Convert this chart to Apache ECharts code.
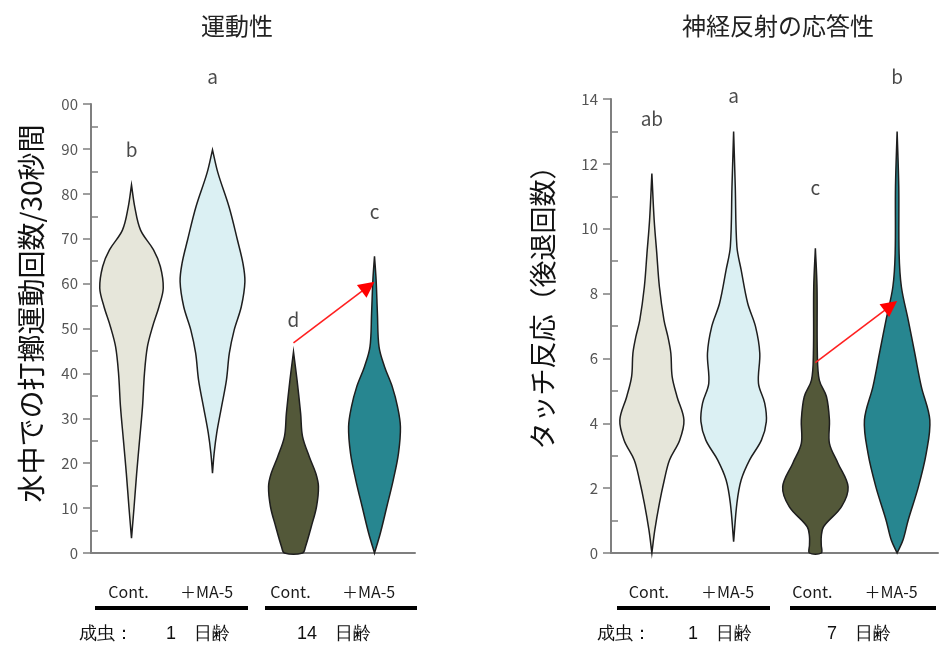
<!DOCTYPE html>
<html><head><meta charset="utf-8">
<script src="https://cdn.jsdelivr.net/npm/echarts@6/dist/echarts.min.js"></script>
<style>html,body{margin:0;padding:0;background:#fff}#c{width:939px;height:648px}</style>
</head><body><div id="c"></div>
<script>
// ---- data ----
const categories = ['Cont.', '＋MA-5', 'Cont.', '＋MA-5'];
const violinColors = ['#e6e6da', '#dbf0f3', '#535839', '#278690'];
const titleLeft = '運動性';
const titleRight = '神経反射の応答性';
const yNameLeft = '水中での打擲運動回数/30秒間';
const yNameRight = 'タッチ反応（後退回数）';
const groupLeft = ['1　日齢', '14　日齢'];
const groupRight = ['1　日齢', '7　日齢'];
const adultLabel = '成虫：';

// Left chart: y values (counts) and relative violin widths (density)
const L1_v = [3.3, 10.3, 17.8, 25.2, 32.6, 40.0, 45.9, 50.4, 54.9, 59.0, 63.8, 67.5, 71.9, 77.1, 82.0];
const L1_d = [0, 0.08, 0.16, 0.25, 0.34, 0.40, 0.49, 0.65, 0.85, 0.98, 0.89, 0.68, 0.28, 0.10, 0];
const L2_v = [17.8, 22.2, 26.7, 32.6, 38.5, 44.5, 49.7, 54.9, 60.4, 64.5, 69.7, 77.1, 84.6, 89.8];
const L2_d = [0, 0.05, 0.13, 0.28, 0.43, 0.52, 0.67, 0.89, 1.0, 0.94, 0.77, 0.51, 0.17, 0];
const L3_v = [0, 1.4, 5.9, 10.3, 14.8, 17.7, 21.4, 25.9, 31.1, 38.5, 44.8];
const L3_d = [0.28, 0.37, 0.55, 0.71, 0.77, 0.69, 0.49, 0.28, 0.22, 0.11, 0];
const L4_v = [0, 4.4, 10.3, 16.3, 22.2, 28.1, 32.6, 37.0, 41.5, 45.9, 53.4, 60.8, 66.1];
const L4_d = [0, 0.18, 0.38, 0.58, 0.74, 0.80, 0.71, 0.55, 0.31, 0.14, 0.09, 0.05, 0];

// Right chart
const R1_v = [0, 0.71, 1.53, 2.25, 2.87, 3.48, 4.1, 4.82, 5.44, 6.16, 6.67, 7.18, 8.21, 9.24, 10.27, 11.7];
const R1_d = [0, 0.09, 0.23, 0.38, 0.54, 0.85, 0.98, 0.77, 0.62, 0.58, 0.49, 0.37, 0.23, 0.15, 0.07, 0];
const R2_v = [0.35, 1.53, 2.25, 2.87, 3.48, 4.05, 4.62, 5.23, 6.16, 6.98, 7.7, 8.73, 9.45, 11.3, 13.0];
const R2_d = [0, 0.10, 0.23, 0.49, 0.85, 1.0, 0.95, 0.76, 0.80, 0.67, 0.43, 0.23, 0.10, 0.05, 0];
const R3_v = [0, 0.25, 0.5, 0.81, 1.43, 2.04, 2.77, 3.38, 4.1, 4.82, 5.33, 6.16, 8.21, 9.4];
const R3_d = [0.18, 0.18, 0.18, 0.25, 0.80, 1.0, 0.69, 0.43, 0.43, 0.34, 0.12, 0.06, 0.05, 0];
const R4_v = [0, 0.4, 1.02, 2.04, 3.07, 4.1, 5.13, 6.16, 7.18, 8.21, 9.24, 11.3, 13.0];
const R4_d = [0, 0.18, 0.34, 0.65, 0.89, 1.0, 0.74, 0.54, 0.34, 0.13, 0.06, 0.05, 0];

// significance letters and their heights (data units)
const lettersLeft = ['b', 'a', 'd', 'c'];
const letterYLeft = [89.8, 106, 51.9, 75.9];
const lettersRight = ['ab', 'a', 'c', 'b'];
const letterYRight = [13.4, 14.1, 11.25, 14.7];

// arrows [x0, y0, x1, y1] in data units (category index, value)
const arrowLeft = [2.17, 46.8, 2.84, 60.4];
const arrowRight = [2.17, 5.87, 2.83, 7.77];

const profilesLeft = [{v: L1_v, d: L1_d}, {v: L2_v, d: L2_d}, {v: L3_v, d: L3_d}, {v: L4_v, d: L4_d}];
const profilesRight = [{v: R1_v, d: R1_d}, {v: R2_v, d: R2_d}, {v: R3_v, d: R3_d}, {v: R4_v, d: R4_d}];

// ---- chart ----
const FONT = '"Noto Sans CJK JP", "Noto Sans", sans-serif';
const AXIS_GRAY = '#7f7f7f';

function violinRenderer(profiles) {
  return function (params, api) {
    const i = params.dataIndex;
    const p = profiles[i];
    const band = api.size([1, 0])[0];
    const maxHalf = band * 0.40;
    const cx = api.coord([i, 0])[0];
    const right = [], left = [];
    for (let k = 0; k < p.v.length; k++) {
      const y = api.coord([i, p.v[k]])[1];
      const w = p.d[k] * maxHalf;
      right.push([cx + w, y]);
      left.unshift([cx - w, y]);
    }
    return {
      type: 'polygon',
      shape: { points: right.concat(left), smooth: 0.35 },
      style: { fill: violinColors[i], stroke: '#1e1e1e', lineWidth: 1.5 }
    };
  };
}

function arrowRenderer(arr) {
  return function (params, api) {
    const a = api.coord([arr[0], arr[1]]);
    const b = api.coord([arr[2], arr[3]]);
    const dx = b[0] - a[0], dy = b[1] - a[1];
    const len = Math.sqrt(dx * dx + dy * dy);
    const ux = dx / len, uy = dy / len;
    const hl = 16, hw = 8;
    const base = [b[0] - ux * hl, b[1] - uy * hl];
    return {
      type: 'group',
      children: [
        { type: 'line', shape: { x1: a[0], y1: a[1], x2: base[0] + ux * 2, y2: base[1] + uy * 2 },
          style: { stroke: '#ff2020', lineWidth: 1.6 } },
        { type: 'polygon', shape: { points: [b, [base[0] - uy * hw, base[1] + ux * hw], [base[0] + uy * hw, base[1] - ux * hw]] },
          style: { fill: '#ff0000' } }
      ]
    };
  };
}

function xAxisCfg(gridIndex) {
  return {
    type: 'category', gridIndex, data: categories, boundaryGap: true,
    axisLine: { lineStyle: { color: AXIS_GRAY, width: 2 } },
    axisTick: { alignWithLabel: true, length: 8, lineStyle: { color: '#555', width: 1.5 } },
    axisLabel: {
      interval: 0, hideOverlap: false,
      margin: 31, fontSize: 16, color: '#1a1a1a', fontFamily: FONT,
      formatter: (v, idx) => idx % 2 === 0 ? '{c|' + v + '}' : '{m|' + v + '}',
      rich: {
        c: { fontSize: 16, color: '#1a1a1a', fontFamily: FONT, padding: [0, 6, 0, 0] },
        m: { fontSize: 16, color: '#1a1a1a', fontFamily: FONT, padding: [0, 12, 0, 0] }
      }
    },
    splitLine: { show: false }
  };
}

function yAxisCfg(gridIndex, max, interval, name, nameSize, nameGap, shift, fmt) {
  return {
    type: 'value', gridIndex, min: 0, max, interval,
    name, nameLocation: 'middle', nameRotate: 90, nameGap,
    nameTextStyle: { fontSize: nameSize, color: '#111', fontFamily: FONT, padding: [0, 0, 0, shift] },
    axisLine: { show: true, lineStyle: { color: AXIS_GRAY, width: 2 } },
    axisTick: { show: true, length: 8, lineStyle: { color: AXIS_GRAY, width: 1.5 } },
    minorTick: { show: true, splitNumber: 2, length: -7, lineStyle: { color: AXIS_GRAY, width: 1.5 } },
    axisLabel: { margin: 13, fontSize: 15, color: '#555', fontFamily: FONT, formatter: fmt },
    splitLine: { show: false }
  };
}

const chart = echarts.init(document.getElementById('c'), null, { renderer: 'canvas' });

const graphicEls = [];
function groupDecor(lines, texts) {
  lines.forEach(l => graphicEls.push({
    type: 'rect', shape: { x: l[0], y: 606, width: l[1] - l[0], height: 4 }, style: { fill: '#000' }
  }));
  texts.forEach(t => graphicEls.push({
    type: 'text', x: t[1], y: 634,
    style: { text: t[0], fontSize: 18, fill: '#111', font: '18px ' + FONT, textAlign: t[2], textVerticalAlign: 'middle' }
  }));
}
groupDecor([[95, 248], [265, 417]], [[adultLabel, 79, 'left'], [groupLeft[0], 198, 'center'], [groupLeft[1], 334, 'center']]);
groupDecor([[617, 770], [790, 936]], [[adultLabel, 597, 'left'], [groupRight[0], 720, 'center'], [groupRight[1], 859, 'center']]);

const letterLabel = (letters) => ({
  show: true, position: 'inside', formatter: p => letters[p.dataIndex],
  fontSize: 19, color: '#1a1a1a', fontFamily: FONT
});

chart.setOption({
  animation: false,
  backgroundColor: '#fff',
  title: [
    { text: titleLeft, left: 232, top: 9, textAlign: 'center',
      textStyle: { fontSize: 24, fontWeight: 'normal', color: '#222', fontFamily: FONT } },
    { text: titleRight, left: 773, top: 9, textAlign: 'center',
      textStyle: { fontSize: 24, fontWeight: 'normal', color: '#222', fontFamily: FONT } }
  ],
  grid: [
    { left: 91, top: 104, width: 324, height: 449 },
    { left: 611, top: 99, width: 327, height: 454 }
  ],
  xAxis: [xAxisCfg(0), xAxisCfg(1)],
  yAxis: [
    yAxisCfg(0, 100, 10, yNameLeft, 28, 46, 30, v => v === 100 ? '00' : String(v)),
    yAxisCfg(1, 14, 2, yNameRight, 27, 55, 50, v => String(v))
  ],
  graphic: graphicEls,
  series: [
    { type: 'custom', xAxisIndex: 0, yAxisIndex: 0, renderItem: violinRenderer(profilesLeft),
      data: categories.map((c, i) => [i, 0]), encode: { x: 0, y: 1 }, clip: false, z: 2 },
    { type: 'custom', xAxisIndex: 1, yAxisIndex: 1, renderItem: violinRenderer(profilesRight),
      data: categories.map((c, i) => [i, 0]), encode: { x: 0, y: 1 }, clip: false, z: 2 },
    { type: 'scatter', xAxisIndex: 0, yAxisIndex: 0, symbolSize: 2, itemStyle: { color: 'rgba(0,0,0,0)' }, clip: false,
      data: letterYLeft.map((y, i) => [i, y]), label: letterLabel(lettersLeft), z: 4 },
    { type: 'scatter', xAxisIndex: 1, yAxisIndex: 1, symbolSize: 2, itemStyle: { color: 'rgba(0,0,0,0)' }, clip: false,
      data: letterYRight.map((y, i) => [i, y]), label: letterLabel(lettersRight), z: 4 },
    { type: 'custom', xAxisIndex: 0, yAxisIndex: 0, renderItem: arrowRenderer(arrowLeft),
      data: [[arrowLeft[0], arrowLeft[1]]], encode: { x: 0, y: 1 }, clip: false, z: 3 },
    { type: 'custom', xAxisIndex: 1, yAxisIndex: 1, renderItem: arrowRenderer(arrowRight),
      data: [[arrowRight[0], arrowRight[1]]], encode: { x: 0, y: 1 }, clip: false, z: 3 }
  ]
});
</script></body></html>
